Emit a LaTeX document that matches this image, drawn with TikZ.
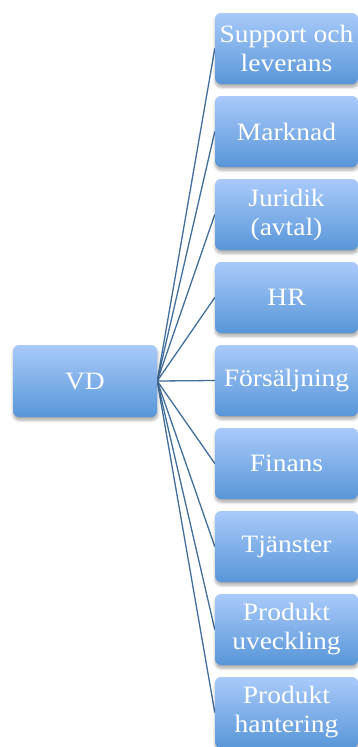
\documentclass[tikz,border=0pt]{standalone}
\usepackage{fontspec}
\setmainfont{Liberation Serif}[FakeStretch=1.1]
\usetikzlibrary{shadows.blur,backgrounds}
\definecolor{boxtop}{RGB}{169,202,250}
\definecolor{boxbot}{RGB}{88,150,216}
\definecolor{linkcol}{RGB}{65,110,155}
\tikzset{
  unitbox/.style={
    rounded corners=6pt, top color=boxtop, bottom color=boxbot, draw=none,
    minimum width=143pt, minimum height=71pt, inner sep=0pt,
    text=white, align=center, font=\fontsize{25}{29}\selectfont,
    blur shadow={shadow xshift=0.5pt, shadow yshift=-3pt, shadow blur steps=6, shadow blur radius=3pt, shadow opacity=35}},
  link/.style={draw=linkcol, line width=1.3pt}
}
\begin{document}
\begin{tikzpicture}[x=1pt,y=-1pt]
\useasboundingbox (0,0) rectangle (358,747);
% chief box
\node[unitbox, minimum width=144pt, minimum height=72pt] (vd) at (85,381) {VD};
% department boxes, one every 83pt
\node[unitbox] (d0) at (286.5,48.5) {Support och\\leverans};
\node[unitbox] (d1) at (286.5,131.5) {Marknad};
\node[unitbox] (d2) at (286.5,214.5) {Juridik\\(avtal)};
\node[unitbox] (d3) at (286.5,297.5) {HR};
\node[unitbox] (d4) at (286.5,380.5) {Försäljning};
\node[unitbox] (d5) at (286.5,463.5) {Finans};
\node[unitbox] (d6) at (286.5,546.5) {Tjänster};
\node[unitbox] (d7) at (286.5,629.5) {Produkt\\uveckling};
\node[unitbox] (d8) at (286.5,712.5) {Produkt\\hantering};
% connectors behind the boxes
\begin{scope}[on background layer]
\foreach \i in {0,...,8}{
  \draw[link] (vd.east) -- (d\i.west);
}
\end{scope}
\end{tikzpicture}
\end{document}
